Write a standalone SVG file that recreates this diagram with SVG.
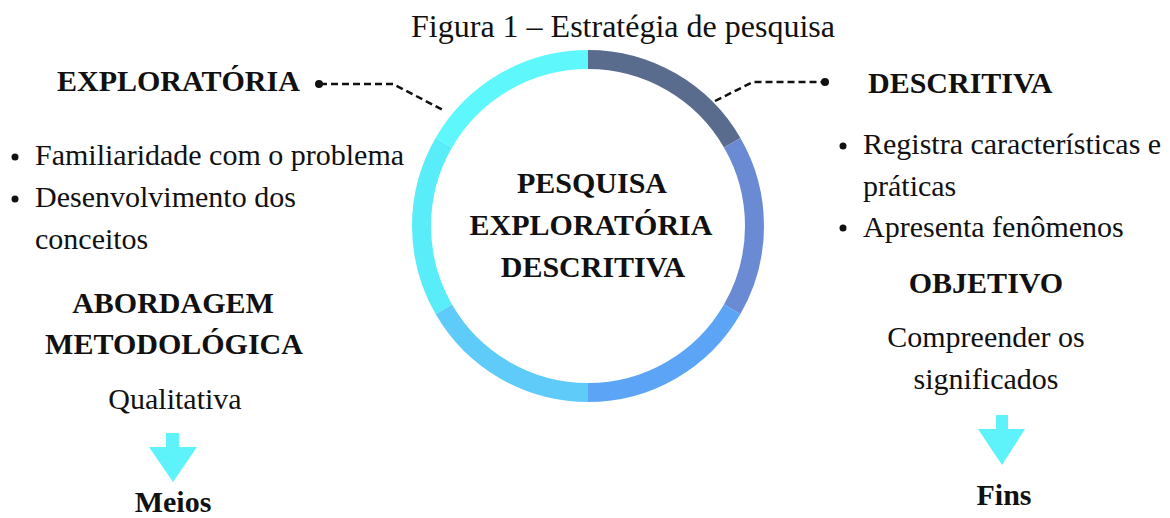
<svg xmlns="http://www.w3.org/2000/svg" width="1170" height="518" viewBox="0 0 1170 518">
<style>
text{font-family:"Liberation Serif","Times New Roman",serif;fill:#111;}
.t{font-size:32px;}
.r{font-size:30px;}
.b{font-size:30px;font-weight:bold;}
.m{text-anchor:middle;}
.seg{fill:none;stroke-width:19;}
.dash{fill:none;stroke:#111;stroke-width:2.5;stroke-dasharray:7 4;}
.arrow{fill:#5ef2fa;}
</style>
<rect width="1170" height="518" fill="#fff"/>
<text class="t m" x="623" y="37">Figura 1 – Estratégia de pesquisa</text>

<g id="center">
<path class="seg" stroke="#5a6c8d" d="M588 59.5A166.5 166.5 0 0 1 732.19 142.75"/>
<path class="seg" stroke="#6a8bd3" d="M732.19 142.75A166.5 166.5 0 0 1 732.19 309.25"/>
<path class="seg" stroke="#5ca5f6" d="M732.19 309.25A166.5 166.5 0 0 1 588 392.5"/>
<path class="seg" stroke="#5fcbf8" d="M588 392.5A166.5 166.5 0 0 1 443.81 309.25"/>
<path class="seg" stroke="#58edf9" d="M443.81 309.25A166.5 166.5 0 0 1 443.81 142.75"/>
<path class="seg" stroke="#5ef7fc" d="M443.81 142.75A166.5 166.5 0 0 1 588 59.5"/>
<text class="b m" x="592" y="193">PESQUISA</text>
<text class="b m" x="591" y="235">EXPLORATÓRIA</text>
<text class="b m" x="593" y="277">DESCRITIVA</text>
</g>

<g id="connectors">
<polyline class="dash" points="320,84 393,84 443,110"/>
<circle cx="319" cy="84" r="4" fill="#111"/>
<polyline class="dash" points="715,101 753,82 825,82"/>
<circle cx="825" cy="82" r="4" fill="#111"/>
</g>

<g id="exploratoria">
<text class="b" x="57" y="91">EXPLORATÓRIA</text>
<circle cx="15" cy="157" r="3.5" fill="#111"/>
<text class="r" x="35" y="165">Familiaridade com o problema</text>
<circle cx="15" cy="199" r="3.5" fill="#111"/>
<text class="r" x="35" y="207">Desenvolvimento dos</text>
<text class="r" x="35" y="249">conceitos</text>
</g>

<g id="abordagem">
<text class="b m" x="173" y="313">ABORDAGEM</text>
<text class="b m" x="174" y="354">METODOLÓGICA</text>
<text class="r m" x="175" y="409">Qualitativa</text>
<polygon class="arrow" points="166,433 179,433 179,447 197,447 173,482 149,447 166,447"/>
<text class="b m" x="173" y="512">Meios</text>
</g>

<g id="descritiva">
<text class="b" x="868" y="93">DESCRITIVA</text>
<circle cx="843" cy="146" r="3.5" fill="#111"/>
<text class="r" x="863" y="154">Registra características e</text>
<text class="r" x="863" y="196">práticas</text>
<circle cx="843" cy="228" r="3.5" fill="#111"/>
<text class="r" x="863" y="237">Apresenta fenômenos</text>
</g>

<g id="objetivo">
<text class="b m" x="986" y="293">OBJETIVO</text>
<text class="r m" x="986" y="347">Compreender os</text>
<text class="r m" x="986" y="389">significados</text>
<polygon class="arrow" points="996,415 1008,415 1008,429 1025,429 1002,465 978,429 996,429"/>
<text class="b m" x="1004" y="505">Fins</text>
</g>
</svg>
